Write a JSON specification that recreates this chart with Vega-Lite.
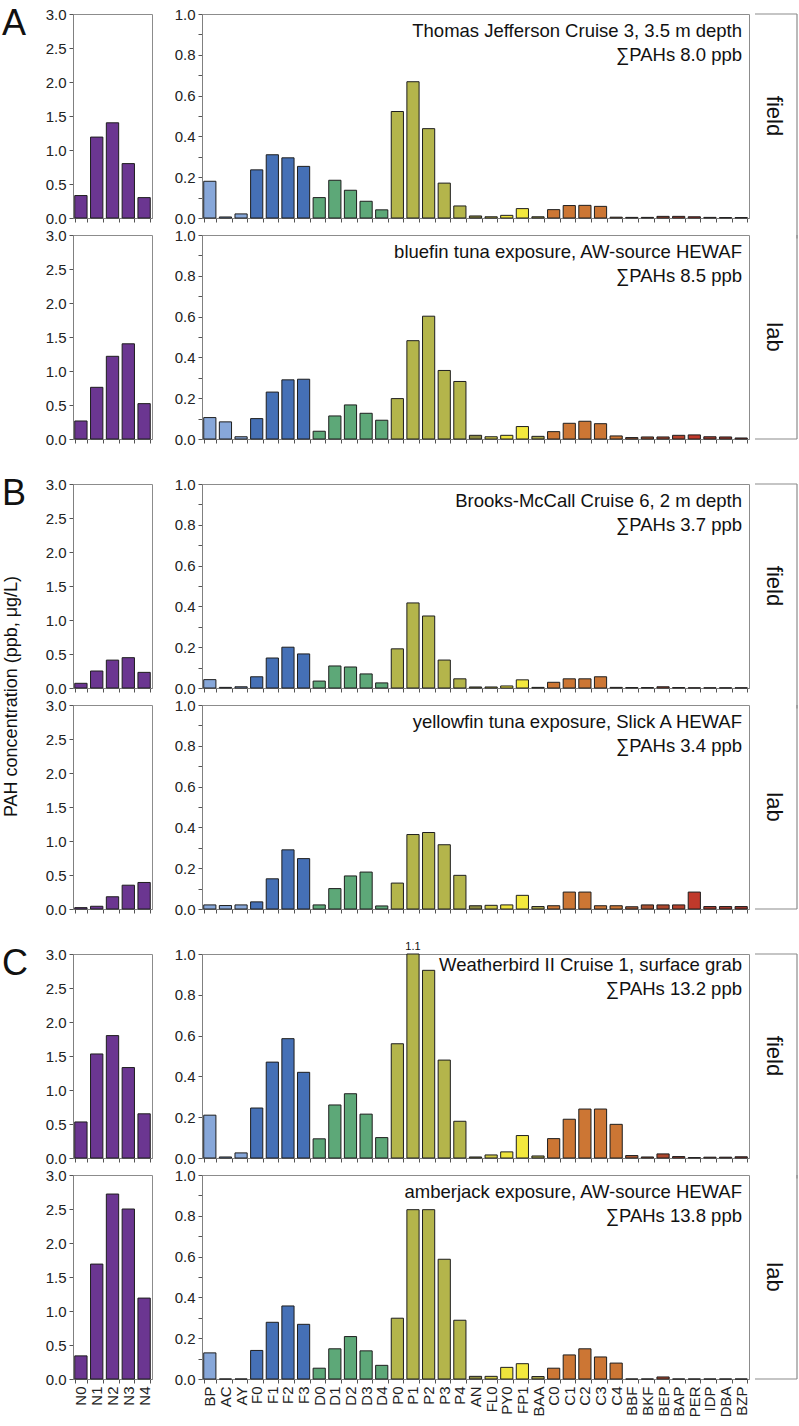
{
  "$schema": "https://vega.github.io/schema/vega-lite/v6.json",
  "padding": {"left": 1, "top": 5, "right": 0, "bottom": 0},
  "columns": 4,
  "spacing": {"row": 17, "column": 6},
  "bounds": "flush",
  "align": "each",
  "config": {
    "font": "Liberation Sans",
    "view": {"stroke": "#8c8c8c", "strokeWidth": 1},
    "axis": {"labelFont": "Liberation Sans", "labelFontSize": 15, "labelColor": "#222", "tickColor": "#555", "tickSize": 4, "domainColor": "#808080", "grid": false, "labelPadding": 3},
    "title": {"font": "Liberation Sans", "fontWeight": "normal", "color": "#111", "fontSize": 18.5, "subtitleFont": "Liberation Sans", "subtitleFontSize": 18.5, "subtitleColor": "#111", "subtitlePadding": 5, "anchor": "end", "frame": "group", "dx": -7, "offset": -57},
    "text": {"font": "Liberation Sans", "color": "#111"}
  },
  "datasets": {
    "tj": [{"c":"N0","v":0.33},{"c":"N1","v":1.19},{"c":"N2","v":1.4},{"c":"N3","v":0.8},{"c":"N4","v":0.3},{"c":"BP","v":0.18},{"c":"AC","v":0.005},{"c":"AY","v":0.02},{"c":"F0","v":0.236},{"c":"F1","v":0.31},{"c":"F2","v":0.295},{"c":"F3","v":0.253},{"c":"D0","v":0.1},{"c":"D1","v":0.185},{"c":"D2","v":0.136},{"c":"D3","v":0.082},{"c":"D4","v":0.04},{"c":"P0","v":0.522},{"c":"P1","v":0.668},{"c":"P2","v":0.438},{"c":"P3","v":0.171},{"c":"P4","v":0.059},{"c":"AN","v":0.01},{"c":"FL0","v":0.006},{"c":"PY0","v":0.013},{"c":"FP1","v":0.046},{"c":"BAA","v":0.006},{"c":"C0","v":0.041},{"c":"C1","v":0.061},{"c":"C2","v":0.062},{"c":"C3","v":0.057},{"c":"C4","v":0.004},{"c":"BBF","v":0.003},{"c":"BKF","v":0.003},{"c":"BEP","v":0.008},{"c":"BAP","v":0.008},{"c":"PER","v":0.006},{"c":"IDP","v":0.003},{"c":"DBA","v":0.002},{"c":"BZP","v":0.002}],
    "bf": [{"c":"N0","v":0.265},{"c":"N1","v":0.76},{"c":"N2","v":1.216},{"c":"N3","v":1.4},{"c":"N4","v":0.52},{"c":"BP","v":0.105},{"c":"AC","v":0.084},{"c":"AY","v":0.011},{"c":"F0","v":0.1},{"c":"F1","v":0.23},{"c":"F2","v":0.29},{"c":"F3","v":0.293},{"c":"D0","v":0.038},{"c":"D1","v":0.113},{"c":"D2","v":0.167},{"c":"D3","v":0.126},{"c":"D4","v":0.092},{"c":"P0","v":0.198},{"c":"P1","v":0.482},{"c":"P2","v":0.602},{"c":"P3","v":0.336},{"c":"P4","v":0.282},{"c":"AN","v":0.018},{"c":"FL0","v":0.011},{"c":"PY0","v":0.018},{"c":"FP1","v":0.061},{"c":"BAA","v":0.013},{"c":"C0","v":0.036},{"c":"C1","v":0.077},{"c":"C2","v":0.087},{"c":"C3","v":0.075},{"c":"C4","v":0.015},{"c":"BBF","v":0.007},{"c":"BKF","v":0.01},{"c":"BEP","v":0.01},{"c":"BAP","v":0.018},{"c":"PER","v":0.02},{"c":"IDP","v":0.011},{"c":"DBA","v":0.01},{"c":"BZP","v":0.005}],
    "bm": [{"c":"N0","v":0.069},{"c":"N1","v":0.25},{"c":"N2","v":0.41},{"c":"N3","v":0.446},{"c":"N4","v":0.23},{"c":"BP","v":0.041},{"c":"AC","v":0.003},{"c":"AY","v":0.006},{"c":"F0","v":0.055},{"c":"F1","v":0.147},{"c":"F2","v":0.2},{"c":"F3","v":0.167},{"c":"D0","v":0.034},{"c":"D1","v":0.108},{"c":"D2","v":0.103},{"c":"D3","v":0.069},{"c":"D4","v":0.025},{"c":"P0","v":0.192},{"c":"P1","v":0.417},{"c":"P2","v":0.353},{"c":"P3","v":0.137},{"c":"P4","v":0.045},{"c":"AN","v":0.005},{"c":"FL0","v":0.005},{"c":"PY0","v":0.01},{"c":"FP1","v":0.04},{"c":"BAA","v":0.003},{"c":"C0","v":0.028},{"c":"C1","v":0.045},{"c":"C2","v":0.045},{"c":"C3","v":0.055},{"c":"C4","v":0.003},{"c":"BBF","v":0.002},{"c":"BKF","v":0.002},{"c":"BEP","v":0.006},{"c":"BAP","v":0.002},{"c":"PER","v":0.001},{"c":"IDP","v":0.001},{"c":"DBA","v":0.001},{"c":"BZP","v":0.001}],
    "yf": [{"c":"N0","v":0.02},{"c":"N1","v":0.04},{"c":"N2","v":0.18},{"c":"N3","v":0.35},{"c":"N4","v":0.39},{"c":"BP","v":0.02},{"c":"AC","v":0.017},{"c":"AY","v":0.02},{"c":"F0","v":0.035},{"c":"F1","v":0.148},{"c":"F2","v":0.29},{"c":"F3","v":0.247},{"c":"D0","v":0.02},{"c":"D1","v":0.1},{"c":"D2","v":0.162},{"c":"D3","v":0.181},{"c":"D4","v":0.015},{"c":"P0","v":0.127},{"c":"P1","v":0.365},{"c":"P2","v":0.375},{"c":"P3","v":0.315},{"c":"P4","v":0.165},{"c":"AN","v":0.016},{"c":"FL0","v":0.018},{"c":"PY0","v":0.02},{"c":"FP1","v":0.067},{"c":"BAA","v":0.012},{"c":"C0","v":0.016},{"c":"C1","v":0.083},{"c":"C2","v":0.083},{"c":"C3","v":0.016},{"c":"C4","v":0.016},{"c":"BBF","v":0.011},{"c":"BKF","v":0.02},{"c":"BEP","v":0.02},{"c":"BAP","v":0.02},{"c":"PER","v":0.083},{"c":"IDP","v":0.012},{"c":"DBA","v":0.012},{"c":"BZP","v":0.012}],
    "wb": [{"c":"N0","v":0.53},{"c":"N1","v":1.53},{"c":"N2","v":1.8},{"c":"N3","v":1.33},{"c":"N4","v":0.65},{"c":"BP","v":0.21},{"c":"AC","v":0.005},{"c":"AY","v":0.025},{"c":"F0","v":0.245},{"c":"F1","v":0.47},{"c":"F2","v":0.585},{"c":"F3","v":0.42},{"c":"D0","v":0.094},{"c":"D1","v":0.26},{"c":"D2","v":0.315},{"c":"D3","v":0.215},{"c":"D4","v":0.1},{"c":"P0","v":0.56},{"c":"P1","v":1.1},{"c":"P2","v":0.92},{"c":"P3","v":0.48},{"c":"P4","v":0.18},{"c":"AN","v":0.005},{"c":"FL0","v":0.015},{"c":"PY0","v":0.03},{"c":"FP1","v":0.11},{"c":"BAA","v":0.01},{"c":"C0","v":0.095},{"c":"C1","v":0.19},{"c":"C2","v":0.24},{"c":"C3","v":0.24},{"c":"C4","v":0.165},{"c":"BBF","v":0.012},{"c":"BKF","v":0.005},{"c":"BEP","v":0.02},{"c":"BAP","v":0.007},{"c":"PER","v":0.002},{"c":"IDP","v":0.004},{"c":"DBA","v":0.004},{"c":"BZP","v":0.006}],
    "aj": [{"c":"N0","v":0.34},{"c":"N1","v":1.69},{"c":"N2","v":2.72},{"c":"N3","v":2.5},{"c":"N4","v":1.19},{"c":"BP","v":0.128},{"c":"AC","v":0},{"c":"AY","v":0},{"c":"F0","v":0.14},{"c":"F1","v":0.278},{"c":"F2","v":0.358},{"c":"F3","v":0.268},{"c":"D0","v":0.053},{"c":"D1","v":0.148},{"c":"D2","v":0.208},{"c":"D3","v":0.138},{"c":"D4","v":0.067},{"c":"P0","v":0.298},{"c":"P1","v":0.83},{"c":"P2","v":0.83},{"c":"P3","v":0.587},{"c":"P4","v":0.288},{"c":"AN","v":0.013},{"c":"FL0","v":0.013},{"c":"PY0","v":0.057},{"c":"FP1","v":0.075},{"c":"BAA","v":0.012},{"c":"C0","v":0.053},{"c":"C1","v":0.118},{"c":"C2","v":0.148},{"c":"C3","v":0.108},{"c":"C4","v":0.078},{"c":"BBF","v":0},{"c":"BKF","v":0},{"c":"BEP","v":0.01},{"c":"BAP","v":0},{"c":"PER","v":0},{"c":"IDP","v":0},{"c":"DBA","v":0},{"c":"BZP","v":0}]
  },
  "concat": [
    {"width": 79, "height": 204, "data": {"name": "tj"},
     "title": {"text": "A", "anchor": "start", "fontSize": 36, "dx": -71, "offset": -64, "baseline": "alphabetic"},
     "transform": [{"filter": {"field": "c", "oneOf": ["N0","N1","N2","N3","N4"]}}],
     "mark": {"type": "bar", "stroke": "#1e1e1e", "strokeWidth": 1},
     "encoding": {
       "x": {"field": "c", "type": "nominal", "scale": {"domain": ["N0","N1","N2","N3","N4"], "paddingInner": 0.22, "paddingOuter": 0.11}, "axis": {"labels": false, "title": null, "tickBand": "extent"}},
       "y": {"field": "v", "type": "quantitative", "scale": {"domain": [0, 3]}, "axis": {"values": [0,0.5,1,1.5,2,2.5,3], "format": ".1f", "title": null, "labelOverlap": false}},
       "color": {"field": "c", "type": "nominal", "legend": null, "scale": {"domain":["N0","N1","N2","N3","N4","BP","AC","AY","F0","F1","F2","F3","D0","D1","D2","D3","D4","P0","P1","P2","P3","P4","AN","FL0","PY0","FP1","BAA","C0","C1","C2","C3","C4","BBF","BKF","BEP","BAP","PER","IDP","DBA","BZP"],"range":["#6b3691","#6b3691","#6b3691","#6b3691","#6b3691","#87a7d9","#87a7d9","#87a7d9","#4570b6","#4570b6","#4570b6","#4570b6","#5da878","#5da878","#5da878","#5da878","#5da878","#b4b54b","#b4b54b","#b4b54b","#b4b54b","#b4b54b","#8a8840","#cfc843","#eee33c","#f3e83d","#a8a449","#cc7634","#cc7634","#cc7634","#cc7634","#cc7634","#b05a32","#a9502f","#ad472d","#b5412b","#c0392b","#a83a2b","#a3362a","#9c3328"]}}
     }},
    {"width": 38, "height": 1, "view": {"stroke": null}, "data": {"values": []}, "mark": "point"},
    {"width": 547, "height": 204, "data": {"name": "tj"},
     "title": {"text": "Thomas Jefferson Cruise 3, 3.5 m depth", "subtitle": "∑PAHs 8.0 ppb"},
     "transform": [{"filter": {"not": {"field": "c", "oneOf": ["N0","N1","N2","N3","N4"]}}}],
     "mark": {"type": "bar", "stroke": "#1e1e1e", "strokeWidth": 1},
     "encoding": {
       "x": {"field": "c", "type": "nominal", "scale": {"domain": ["BP","AC","AY","F0","F1","F2","F3","D0","D1","D2","D3","D4","P0","P1","P2","P3","P4","AN","FL0","PY0","FP1","BAA","C0","C1","C2","C3","C4","BBF","BKF","BEP","BAP","PER","IDP","DBA","BZP"], "paddingInner": 0.22, "paddingOuter": 0.11}, "axis": {"labels": false, "title": null, "tickBand": "extent"}},
       "y": {"field": "v", "type": "quantitative", "scale": {"domain": [0, 1], "clamp": true}, "axis": {"values": [0,0.1,0.2,0.3,0.4,0.5,0.6,0.7,0.8,0.9,1], "labelExpr": "round(datum.value*10)%2==0 ? format(datum.value,'.1f') : ''", "title": null, "labelOverlap": false}},
       "color": {"field": "c", "type": "nominal", "legend": null, "scale": {"domain":["N0","N1","N2","N3","N4","BP","AC","AY","F0","F1","F2","F3","D0","D1","D2","D3","D4","P0","P1","P2","P3","P4","AN","FL0","PY0","FP1","BAA","C0","C1","C2","C3","C4","BBF","BKF","BEP","BAP","PER","IDP","DBA","BZP"],"range":["#6b3691","#6b3691","#6b3691","#6b3691","#6b3691","#87a7d9","#87a7d9","#87a7d9","#4570b6","#4570b6","#4570b6","#4570b6","#5da878","#5da878","#5da878","#5da878","#5da878","#b4b54b","#b4b54b","#b4b54b","#b4b54b","#b4b54b","#8a8840","#cfc843","#eee33c","#f3e83d","#a8a449","#cc7634","#cc7634","#cc7634","#cc7634","#cc7634","#b05a32","#a9502f","#ad472d","#b5412b","#c0392b","#a83a2b","#a3362a","#9c3328"]}}
     }},
    {"width": 42, "height": 204, "view": {"stroke": null}, "data": {"values": [{"t": "field"}]},
     "layer": [
       {"mark": {"type": "rule", "color": "#8c8c8c", "strokeWidth": 1.2, "clip": false}, "encoding": {"x": {"datum": 0, "type": "quantitative", "scale": {"domain": [0, 1]}, "axis": null}, "x2": {"datum": 1}, "y": {"datum": 1, "type": "quantitative", "scale": {"domain": [0, 1]}, "axis": null}}},
       {"mark": {"type": "rule", "color": "#8c8c8c", "strokeWidth": 1.2, "clip": false}, "encoding": {"x": {"datum": 1, "type": "quantitative"}, "y": {"datum": 1, "type": "quantitative"}, "y2": {"datum": -0.1}}},
       {"mark": {"type": "text", "angle": 90, "fontSize": 22, "align": "center", "baseline": "middle"}, "encoding": {"text": {"field": "t"}, "x": {"datum": 0.45, "type": "quantitative"}, "y": {"datum": 0.5, "type": "quantitative"}}}
     ]},

    {"width": 79, "height": 204, "data": {"name": "bf"},
     "transform": [{"filter": {"field": "c", "oneOf": ["N0","N1","N2","N3","N4"]}}],
     "mark": {"type": "bar", "stroke": "#1e1e1e", "strokeWidth": 1},
     "encoding": {
       "x": {"field": "c", "type": "nominal", "scale": {"domain": ["N0","N1","N2","N3","N4"], "paddingInner": 0.22, "paddingOuter": 0.11}, "axis": {"labels": false, "title": null, "tickBand": "extent"}},
       "y": {"field": "v", "type": "quantitative", "scale": {"domain": [0, 3]}, "axis": {"values": [0,0.5,1,1.5,2,2.5,3], "format": ".1f", "title": null, "labelOverlap": false}},
       "color": {"field": "c", "type": "nominal", "legend": null, "scale": {"domain":["N0","N1","N2","N3","N4","BP","AC","AY","F0","F1","F2","F3","D0","D1","D2","D3","D4","P0","P1","P2","P3","P4","AN","FL0","PY0","FP1","BAA","C0","C1","C2","C3","C4","BBF","BKF","BEP","BAP","PER","IDP","DBA","BZP"],"range":["#6b3691","#6b3691","#6b3691","#6b3691","#6b3691","#87a7d9","#87a7d9","#87a7d9","#4570b6","#4570b6","#4570b6","#4570b6","#5da878","#5da878","#5da878","#5da878","#5da878","#b4b54b","#b4b54b","#b4b54b","#b4b54b","#b4b54b","#8a8840","#cfc843","#eee33c","#f3e83d","#a8a449","#cc7634","#cc7634","#cc7634","#cc7634","#cc7634","#b05a32","#a9502f","#ad472d","#b5412b","#c0392b","#a83a2b","#a3362a","#9c3328"]}}
     }},
    {"width": 38, "height": 1, "view": {"stroke": null}, "data": {"values": []}, "mark": "point"},
    {"width": 547, "height": 204, "data": {"name": "bf"},
     "title": {"text": "bluefin tuna exposure, AW-source HEWAF", "subtitle": "∑PAHs 8.5 ppb"},
     "transform": [{"filter": {"not": {"field": "c", "oneOf": ["N0","N1","N2","N3","N4"]}}}],
     "mark": {"type": "bar", "stroke": "#1e1e1e", "strokeWidth": 1},
     "encoding": {
       "x": {"field": "c", "type": "nominal", "scale": {"domain": ["BP","AC","AY","F0","F1","F2","F3","D0","D1","D2","D3","D4","P0","P1","P2","P3","P4","AN","FL0","PY0","FP1","BAA","C0","C1","C2","C3","C4","BBF","BKF","BEP","BAP","PER","IDP","DBA","BZP"], "paddingInner": 0.22, "paddingOuter": 0.11}, "axis": {"labels": false, "title": null, "tickBand": "extent"}},
       "y": {"field": "v", "type": "quantitative", "scale": {"domain": [0, 1], "clamp": true}, "axis": {"values": [0,0.1,0.2,0.3,0.4,0.5,0.6,0.7,0.8,0.9,1], "labelExpr": "round(datum.value*10)%2==0 ? format(datum.value,'.1f') : ''", "title": null, "labelOverlap": false}},
       "color": {"field": "c", "type": "nominal", "legend": null, "scale": {"domain":["N0","N1","N2","N3","N4","BP","AC","AY","F0","F1","F2","F3","D0","D1","D2","D3","D4","P0","P1","P2","P3","P4","AN","FL0","PY0","FP1","BAA","C0","C1","C2","C3","C4","BBF","BKF","BEP","BAP","PER","IDP","DBA","BZP"],"range":["#6b3691","#6b3691","#6b3691","#6b3691","#6b3691","#87a7d9","#87a7d9","#87a7d9","#4570b6","#4570b6","#4570b6","#4570b6","#5da878","#5da878","#5da878","#5da878","#5da878","#b4b54b","#b4b54b","#b4b54b","#b4b54b","#b4b54b","#8a8840","#cfc843","#eee33c","#f3e83d","#a8a449","#cc7634","#cc7634","#cc7634","#cc7634","#cc7634","#b05a32","#a9502f","#ad472d","#b5412b","#c0392b","#a83a2b","#a3362a","#9c3328"]}}
     }},
    {"width": 42, "height": 204, "view": {"stroke": null}, "data": {"values": [{"t": "lab"}]},
     "layer": [
       {"mark": {"type": "rule", "color": "#8c8c8c", "strokeWidth": 1.2, "clip": false}, "encoding": {"x": {"datum": 0, "type": "quantitative", "scale": {"domain": [0, 1]}, "axis": null}, "x2": {"datum": 1}, "y": {"datum": 0, "type": "quantitative", "scale": {"domain": [0, 1]}, "axis": null}}},
       {"mark": {"type": "rule", "color": "#8c8c8c", "strokeWidth": 1.2, "clip": false}, "encoding": {"x": {"datum": 1, "type": "quantitative"}, "y": {"datum": 0, "type": "quantitative"}, "y2": {"datum": 1}}},
       {"mark": {"type": "text", "angle": 90, "fontSize": 22, "align": "center", "baseline": "middle"}, "encoding": {"text": {"field": "t"}, "x": {"datum": 0.45, "type": "quantitative"}, "y": {"datum": 0.5, "type": "quantitative"}}}
     ]},

    {"width": 1, "height": 11, "view": {"stroke": null}, "data": {"values": []}, "mark": "point"},
    {"width": 1, "height": 11, "view": {"stroke": null}, "data": {"values": []}, "mark": "point"},
    {"width": 1, "height": 11, "view": {"stroke": null}, "data": {"values": []}, "mark": "point"},
    {"width": 1, "height": 11, "view": {"stroke": null}, "data": {"values": []}, "mark": "point"},

    {"width": 79, "height": 204, "data": {"name": "bm"},
     "title": {"text": "B", "anchor": "start", "fontSize": 36, "dx": -71, "offset": -64, "baseline": "alphabetic"},
     "transform": [{"filter": {"field": "c", "oneOf": ["N0","N1","N2","N3","N4"]}}],
     "mark": {"type": "bar", "stroke": "#1e1e1e", "strokeWidth": 1},
     "encoding": {
       "x": {"field": "c", "type": "nominal", "scale": {"domain": ["N0","N1","N2","N3","N4"], "paddingInner": 0.22, "paddingOuter": 0.11}, "axis": {"labels": false, "title": null, "tickBand": "extent"}},
       "y": {"field": "v", "type": "quantitative", "scale": {"domain": [0, 3]}, "axis": {"values": [0,0.5,1,1.5,2,2.5,3], "format": ".1f", "labelOverlap": false, "title": "PAH concentration (ppb, μg/L)", "titleX": -57, "titleY": 212, "titleFontSize": 18, "titleFontWeight": "normal", "titleFont": "Liberation Sans", "titleColor": "#111", "titleAngle": 270, "titleAlign": "center", "titleBaseline": "alphabetic"}},
       "color": {"field": "c", "type": "nominal", "legend": null, "scale": {"domain":["N0","N1","N2","N3","N4","BP","AC","AY","F0","F1","F2","F3","D0","D1","D2","D3","D4","P0","P1","P2","P3","P4","AN","FL0","PY0","FP1","BAA","C0","C1","C2","C3","C4","BBF","BKF","BEP","BAP","PER","IDP","DBA","BZP"],"range":["#6b3691","#6b3691","#6b3691","#6b3691","#6b3691","#87a7d9","#87a7d9","#87a7d9","#4570b6","#4570b6","#4570b6","#4570b6","#5da878","#5da878","#5da878","#5da878","#5da878","#b4b54b","#b4b54b","#b4b54b","#b4b54b","#b4b54b","#8a8840","#cfc843","#eee33c","#f3e83d","#a8a449","#cc7634","#cc7634","#cc7634","#cc7634","#cc7634","#b05a32","#a9502f","#ad472d","#b5412b","#c0392b","#a83a2b","#a3362a","#9c3328"]}}
     }},
    {"width": 38, "height": 1, "view": {"stroke": null}, "data": {"values": []}, "mark": "point"},
    {"width": 547, "height": 204, "data": {"name": "bm"},
     "title": {"text": "Brooks-McCall Cruise 6, 2 m depth", "subtitle": "∑PAHs 3.7 ppb"},
     "transform": [{"filter": {"not": {"field": "c", "oneOf": ["N0","N1","N2","N3","N4"]}}}],
     "mark": {"type": "bar", "stroke": "#1e1e1e", "strokeWidth": 1},
     "encoding": {
       "x": {"field": "c", "type": "nominal", "scale": {"domain": ["BP","AC","AY","F0","F1","F2","F3","D0","D1","D2","D3","D4","P0","P1","P2","P3","P4","AN","FL0","PY0","FP1","BAA","C0","C1","C2","C3","C4","BBF","BKF","BEP","BAP","PER","IDP","DBA","BZP"], "paddingInner": 0.22, "paddingOuter": 0.11}, "axis": {"labels": false, "title": null, "tickBand": "extent"}},
       "y": {"field": "v", "type": "quantitative", "scale": {"domain": [0, 1], "clamp": true}, "axis": {"values": [0,0.1,0.2,0.3,0.4,0.5,0.6,0.7,0.8,0.9,1], "labelExpr": "round(datum.value*10)%2==0 ? format(datum.value,'.1f') : ''", "title": null, "labelOverlap": false}},
       "color": {"field": "c", "type": "nominal", "legend": null, "scale": {"domain":["N0","N1","N2","N3","N4","BP","AC","AY","F0","F1","F2","F3","D0","D1","D2","D3","D4","P0","P1","P2","P3","P4","AN","FL0","PY0","FP1","BAA","C0","C1","C2","C3","C4","BBF","BKF","BEP","BAP","PER","IDP","DBA","BZP"],"range":["#6b3691","#6b3691","#6b3691","#6b3691","#6b3691","#87a7d9","#87a7d9","#87a7d9","#4570b6","#4570b6","#4570b6","#4570b6","#5da878","#5da878","#5da878","#5da878","#5da878","#b4b54b","#b4b54b","#b4b54b","#b4b54b","#b4b54b","#8a8840","#cfc843","#eee33c","#f3e83d","#a8a449","#cc7634","#cc7634","#cc7634","#cc7634","#cc7634","#b05a32","#a9502f","#ad472d","#b5412b","#c0392b","#a83a2b","#a3362a","#9c3328"]}}
     }},
    {"width": 42, "height": 204, "view": {"stroke": null}, "data": {"values": [{"t": "field"}]},
     "layer": [
       {"mark": {"type": "rule", "color": "#8c8c8c", "strokeWidth": 1.2, "clip": false}, "encoding": {"x": {"datum": 0, "type": "quantitative", "scale": {"domain": [0, 1]}, "axis": null}, "x2": {"datum": 1}, "y": {"datum": 1, "type": "quantitative", "scale": {"domain": [0, 1]}, "axis": null}}},
       {"mark": {"type": "rule", "color": "#8c8c8c", "strokeWidth": 1.2, "clip": false}, "encoding": {"x": {"datum": 1, "type": "quantitative"}, "y": {"datum": 1, "type": "quantitative"}, "y2": {"datum": -0.1}}},
       {"mark": {"type": "text", "angle": 90, "fontSize": 22, "align": "center", "baseline": "middle"}, "encoding": {"text": {"field": "t"}, "x": {"datum": 0.45, "type": "quantitative"}, "y": {"datum": 0.5, "type": "quantitative"}}}
     ]},

    {"width": 79, "height": 204, "data": {"name": "yf"},
     "transform": [{"filter": {"field": "c", "oneOf": ["N0","N1","N2","N3","N4"]}}],
     "mark": {"type": "bar", "stroke": "#1e1e1e", "strokeWidth": 1},
     "encoding": {
       "x": {"field": "c", "type": "nominal", "scale": {"domain": ["N0","N1","N2","N3","N4"], "paddingInner": 0.22, "paddingOuter": 0.11}, "axis": {"labels": false, "title": null, "tickBand": "extent"}},
       "y": {"field": "v", "type": "quantitative", "scale": {"domain": [0, 3]}, "axis": {"values": [0,0.5,1,1.5,2,2.5,3], "format": ".1f", "title": null, "labelOverlap": false}},
       "color": {"field": "c", "type": "nominal", "legend": null, "scale": {"domain":["N0","N1","N2","N3","N4","BP","AC","AY","F0","F1","F2","F3","D0","D1","D2","D3","D4","P0","P1","P2","P3","P4","AN","FL0","PY0","FP1","BAA","C0","C1","C2","C3","C4","BBF","BKF","BEP","BAP","PER","IDP","DBA","BZP"],"range":["#6b3691","#6b3691","#6b3691","#6b3691","#6b3691","#87a7d9","#87a7d9","#87a7d9","#4570b6","#4570b6","#4570b6","#4570b6","#5da878","#5da878","#5da878","#5da878","#5da878","#b4b54b","#b4b54b","#b4b54b","#b4b54b","#b4b54b","#8a8840","#cfc843","#eee33c","#f3e83d","#a8a449","#cc7634","#cc7634","#cc7634","#cc7634","#cc7634","#b05a32","#a9502f","#ad472d","#b5412b","#c0392b","#a83a2b","#a3362a","#9c3328"]}}
     }},
    {"width": 38, "height": 1, "view": {"stroke": null}, "data": {"values": []}, "mark": "point"},
    {"width": 547, "height": 204, "data": {"name": "yf"},
     "title": {"text": "yellowfin tuna exposure, Slick A HEWAF", "subtitle": "∑PAHs 3.4 ppb"},
     "transform": [{"filter": {"not": {"field": "c", "oneOf": ["N0","N1","N2","N3","N4"]}}}],
     "mark": {"type": "bar", "stroke": "#1e1e1e", "strokeWidth": 1},
     "encoding": {
       "x": {"field": "c", "type": "nominal", "scale": {"domain": ["BP","AC","AY","F0","F1","F2","F3","D0","D1","D2","D3","D4","P0","P1","P2","P3","P4","AN","FL0","PY0","FP1","BAA","C0","C1","C2","C3","C4","BBF","BKF","BEP","BAP","PER","IDP","DBA","BZP"], "paddingInner": 0.22, "paddingOuter": 0.11}, "axis": {"labels": false, "title": null, "tickBand": "extent"}},
       "y": {"field": "v", "type": "quantitative", "scale": {"domain": [0, 1], "clamp": true}, "axis": {"values": [0,0.1,0.2,0.3,0.4,0.5,0.6,0.7,0.8,0.9,1], "labelExpr": "round(datum.value*10)%2==0 ? format(datum.value,'.1f') : ''", "title": null, "labelOverlap": false}},
       "color": {"field": "c", "type": "nominal", "legend": null, "scale": {"domain":["N0","N1","N2","N3","N4","BP","AC","AY","F0","F1","F2","F3","D0","D1","D2","D3","D4","P0","P1","P2","P3","P4","AN","FL0","PY0","FP1","BAA","C0","C1","C2","C3","C4","BBF","BKF","BEP","BAP","PER","IDP","DBA","BZP"],"range":["#6b3691","#6b3691","#6b3691","#6b3691","#6b3691","#87a7d9","#87a7d9","#87a7d9","#4570b6","#4570b6","#4570b6","#4570b6","#5da878","#5da878","#5da878","#5da878","#5da878","#b4b54b","#b4b54b","#b4b54b","#b4b54b","#b4b54b","#8a8840","#cfc843","#eee33c","#f3e83d","#a8a449","#cc7634","#cc7634","#cc7634","#cc7634","#cc7634","#b05a32","#a9502f","#ad472d","#b5412b","#c0392b","#a83a2b","#a3362a","#9c3328"]}}
     }},
    {"width": 42, "height": 204, "view": {"stroke": null}, "data": {"values": [{"t": "lab"}]},
     "layer": [
       {"mark": {"type": "rule", "color": "#8c8c8c", "strokeWidth": 1.2, "clip": false}, "encoding": {"x": {"datum": 0, "type": "quantitative", "scale": {"domain": [0, 1]}, "axis": null}, "x2": {"datum": 1}, "y": {"datum": 0, "type": "quantitative", "scale": {"domain": [0, 1]}, "axis": null}}},
       {"mark": {"type": "rule", "color": "#8c8c8c", "strokeWidth": 1.2, "clip": false}, "encoding": {"x": {"datum": 1, "type": "quantitative"}, "y": {"datum": 0, "type": "quantitative"}, "y2": {"datum": 1}}},
       {"mark": {"type": "text", "angle": 90, "fontSize": 22, "align": "center", "baseline": "middle"}, "encoding": {"text": {"field": "t"}, "x": {"datum": 0.45, "type": "quantitative"}, "y": {"datum": 0.5, "type": "quantitative"}}}
     ]},

    {"width": 1, "height": 11, "view": {"stroke": null}, "data": {"values": []}, "mark": "point"},
    {"width": 1, "height": 11, "view": {"stroke": null}, "data": {"values": []}, "mark": "point"},
    {"width": 1, "height": 11, "view": {"stroke": null}, "data": {"values": []}, "mark": "point"},
    {"width": 1, "height": 11, "view": {"stroke": null}, "data": {"values": []}, "mark": "point"},

    {"width": 79, "height": 204, "data": {"name": "wb"},
     "title": {"text": "C", "anchor": "start", "fontSize": 36, "dx": -71, "offset": -64, "baseline": "alphabetic"},
     "transform": [{"filter": {"field": "c", "oneOf": ["N0","N1","N2","N3","N4"]}}],
     "mark": {"type": "bar", "stroke": "#1e1e1e", "strokeWidth": 1},
     "encoding": {
       "x": {"field": "c", "type": "nominal", "scale": {"domain": ["N0","N1","N2","N3","N4"], "paddingInner": 0.22, "paddingOuter": 0.11}, "axis": {"labels": false, "title": null, "tickBand": "extent"}},
       "y": {"field": "v", "type": "quantitative", "scale": {"domain": [0, 3]}, "axis": {"values": [0,0.5,1,1.5,2,2.5,3], "format": ".1f", "title": null, "labelOverlap": false}},
       "color": {"field": "c", "type": "nominal", "legend": null, "scale": {"domain":["N0","N1","N2","N3","N4","BP","AC","AY","F0","F1","F2","F3","D0","D1","D2","D3","D4","P0","P1","P2","P3","P4","AN","FL0","PY0","FP1","BAA","C0","C1","C2","C3","C4","BBF","BKF","BEP","BAP","PER","IDP","DBA","BZP"],"range":["#6b3691","#6b3691","#6b3691","#6b3691","#6b3691","#87a7d9","#87a7d9","#87a7d9","#4570b6","#4570b6","#4570b6","#4570b6","#5da878","#5da878","#5da878","#5da878","#5da878","#b4b54b","#b4b54b","#b4b54b","#b4b54b","#b4b54b","#8a8840","#cfc843","#eee33c","#f3e83d","#a8a449","#cc7634","#cc7634","#cc7634","#cc7634","#cc7634","#b05a32","#a9502f","#ad472d","#b5412b","#c0392b","#a83a2b","#a3362a","#9c3328"]}}
     }},
    {"width": 38, "height": 1, "view": {"stroke": null}, "data": {"values": []}, "mark": "point"},
    {"width": 547, "height": 204, "data": {"name": "wb"},
     "title": {"text": "Weatherbird II Cruise 1, surface grab", "subtitle": "∑PAHs 13.2 ppb"},
     "transform": [{"filter": {"not": {"field": "c", "oneOf": ["N0","N1","N2","N3","N4"]}}}],
     "layer": [
       {"mark": {"type": "bar", "stroke": "#1e1e1e", "strokeWidth": 1},
        "encoding": {
          "x": {"field": "c", "type": "nominal", "scale": {"domain": ["BP","AC","AY","F0","F1","F2","F3","D0","D1","D2","D3","D4","P0","P1","P2","P3","P4","AN","FL0","PY0","FP1","BAA","C0","C1","C2","C3","C4","BBF","BKF","BEP","BAP","PER","IDP","DBA","BZP"], "paddingInner": 0.22, "paddingOuter": 0.11}, "axis": {"labels": false, "title": null, "tickBand": "extent"}},
          "y": {"field": "v", "type": "quantitative", "scale": {"domain": [0, 1], "clamp": true}, "axis": {"values": [0,0.1,0.2,0.3,0.4,0.5,0.6,0.7,0.8,0.9,1], "labelExpr": "round(datum.value*10)%2==0 ? format(datum.value,'.1f') : ''", "title": null, "labelOverlap": false}},
          "color": {"field": "c", "type": "nominal", "legend": null, "scale": {"domain":["N0","N1","N2","N3","N4","BP","AC","AY","F0","F1","F2","F3","D0","D1","D2","D3","D4","P0","P1","P2","P3","P4","AN","FL0","PY0","FP1","BAA","C0","C1","C2","C3","C4","BBF","BKF","BEP","BAP","PER","IDP","DBA","BZP"],"range":["#6b3691","#6b3691","#6b3691","#6b3691","#6b3691","#87a7d9","#87a7d9","#87a7d9","#4570b6","#4570b6","#4570b6","#4570b6","#5da878","#5da878","#5da878","#5da878","#5da878","#b4b54b","#b4b54b","#b4b54b","#b4b54b","#b4b54b","#8a8840","#cfc843","#eee33c","#f3e83d","#a8a449","#cc7634","#cc7634","#cc7634","#cc7634","#cc7634","#b05a32","#a9502f","#ad472d","#b5412b","#c0392b","#a83a2b","#a3362a","#9c3328"]}}
        }},
       {"transform": [{"filter": "datum.v > 1"}],
        "mark": {"type": "text", "baseline": "bottom", "dy": -2, "fontSize": 11, "clip": false},
        "encoding": {
          "x": {"field": "c", "type": "nominal"},
          "y": {"field": "v", "type": "quantitative"},
          "text": {"field": "v", "type": "quantitative", "format": ".1f"}
        }}
     ]},
    {"width": 42, "height": 204, "view": {"stroke": null}, "data": {"values": [{"t": "field"}]},
     "layer": [
       {"mark": {"type": "rule", "color": "#8c8c8c", "strokeWidth": 1.2, "clip": false}, "encoding": {"x": {"datum": 0, "type": "quantitative", "scale": {"domain": [0, 1]}, "axis": null}, "x2": {"datum": 1}, "y": {"datum": 1, "type": "quantitative", "scale": {"domain": [0, 1]}, "axis": null}}},
       {"mark": {"type": "rule", "color": "#8c8c8c", "strokeWidth": 1.2, "clip": false}, "encoding": {"x": {"datum": 1, "type": "quantitative"}, "y": {"datum": 1, "type": "quantitative"}, "y2": {"datum": -0.1}}},
       {"mark": {"type": "text", "angle": 90, "fontSize": 22, "align": "center", "baseline": "middle"}, "encoding": {"text": {"field": "t"}, "x": {"datum": 0.45, "type": "quantitative"}, "y": {"datum": 0.5, "type": "quantitative"}}}
     ]},

    {"width": 79, "height": 204, "data": {"name": "aj"},
     "transform": [{"filter": {"field": "c", "oneOf": ["N0","N1","N2","N3","N4"]}}],
     "mark": {"type": "bar", "stroke": "#1e1e1e", "strokeWidth": 1},
     "encoding": {
       "x": {"field": "c", "type": "nominal", "scale": {"domain": ["N0","N1","N2","N3","N4"], "paddingInner": 0.22, "paddingOuter": 0.11}, "axis": {"labelAngle": 270, "labelFontSize": 15, "title": null, "tickBand": "extent"}},
       "y": {"field": "v", "type": "quantitative", "scale": {"domain": [0, 3]}, "axis": {"values": [0,0.5,1,1.5,2,2.5,3], "format": ".1f", "title": null, "labelOverlap": false}},
       "color": {"field": "c", "type": "nominal", "legend": null, "scale": {"domain":["N0","N1","N2","N3","N4","BP","AC","AY","F0","F1","F2","F3","D0","D1","D2","D3","D4","P0","P1","P2","P3","P4","AN","FL0","PY0","FP1","BAA","C0","C1","C2","C3","C4","BBF","BKF","BEP","BAP","PER","IDP","DBA","BZP"],"range":["#6b3691","#6b3691","#6b3691","#6b3691","#6b3691","#87a7d9","#87a7d9","#87a7d9","#4570b6","#4570b6","#4570b6","#4570b6","#5da878","#5da878","#5da878","#5da878","#5da878","#b4b54b","#b4b54b","#b4b54b","#b4b54b","#b4b54b","#8a8840","#cfc843","#eee33c","#f3e83d","#a8a449","#cc7634","#cc7634","#cc7634","#cc7634","#cc7634","#b05a32","#a9502f","#ad472d","#b5412b","#c0392b","#a83a2b","#a3362a","#9c3328"]}}
     }},
    {"width": 38, "height": 1, "view": {"stroke": null}, "data": {"values": []}, "mark": "point"},
    {"width": 547, "height": 204, "data": {"name": "aj"},
     "title": {"text": "amberjack exposure, AW-source HEWAF", "subtitle": "∑PAHs 13.8 ppb"},
     "transform": [{"filter": {"not": {"field": "c", "oneOf": ["N0","N1","N2","N3","N4"]}}}],
     "mark": {"type": "bar", "stroke": "#1e1e1e", "strokeWidth": 1},
     "encoding": {
       "x": {"field": "c", "type": "nominal", "scale": {"domain": ["BP","AC","AY","F0","F1","F2","F3","D0","D1","D2","D3","D4","P0","P1","P2","P3","P4","AN","FL0","PY0","FP1","BAA","C0","C1","C2","C3","C4","BBF","BKF","BEP","BAP","PER","IDP","DBA","BZP"], "paddingInner": 0.22, "paddingOuter": 0.11}, "axis": {"labelAngle": 270, "labelFontSize": 15, "title": null, "tickBand": "extent"}},
       "y": {"field": "v", "type": "quantitative", "scale": {"domain": [0, 1], "clamp": true}, "axis": {"values": [0,0.1,0.2,0.3,0.4,0.5,0.6,0.7,0.8,0.9,1], "labelExpr": "round(datum.value*10)%2==0 ? format(datum.value,'.1f') : ''", "title": null, "labelOverlap": false}},
       "color": {"field": "c", "type": "nominal", "legend": null, "scale": {"domain":["N0","N1","N2","N3","N4","BP","AC","AY","F0","F1","F2","F3","D0","D1","D2","D3","D4","P0","P1","P2","P3","P4","AN","FL0","PY0","FP1","BAA","C0","C1","C2","C3","C4","BBF","BKF","BEP","BAP","PER","IDP","DBA","BZP"],"range":["#6b3691","#6b3691","#6b3691","#6b3691","#6b3691","#87a7d9","#87a7d9","#87a7d9","#4570b6","#4570b6","#4570b6","#4570b6","#5da878","#5da878","#5da878","#5da878","#5da878","#b4b54b","#b4b54b","#b4b54b","#b4b54b","#b4b54b","#8a8840","#cfc843","#eee33c","#f3e83d","#a8a449","#cc7634","#cc7634","#cc7634","#cc7634","#cc7634","#b05a32","#a9502f","#ad472d","#b5412b","#c0392b","#a83a2b","#a3362a","#9c3328"]}}
     }},
    {"width": 42, "height": 204, "view": {"stroke": null}, "data": {"values": [{"t": "lab"}]},
     "layer": [
       {"mark": {"type": "rule", "color": "#8c8c8c", "strokeWidth": 1.2, "clip": false}, "encoding": {"x": {"datum": 0, "type": "quantitative", "scale": {"domain": [0, 1]}, "axis": null}, "x2": {"datum": 1}, "y": {"datum": 0, "type": "quantitative", "scale": {"domain": [0, 1]}, "axis": null}}},
       {"mark": {"type": "rule", "color": "#8c8c8c", "strokeWidth": 1.2, "clip": false}, "encoding": {"x": {"datum": 1, "type": "quantitative"}, "y": {"datum": 0, "type": "quantitative"}, "y2": {"datum": 1}}},
       {"mark": {"type": "text", "angle": 90, "fontSize": 22, "align": "center", "baseline": "middle"}, "encoding": {"text": {"field": "t"}, "x": {"datum": 0.45, "type": "quantitative"}, "y": {"datum": 0.5, "type": "quantitative"}}}
     ]}
  ]
}
